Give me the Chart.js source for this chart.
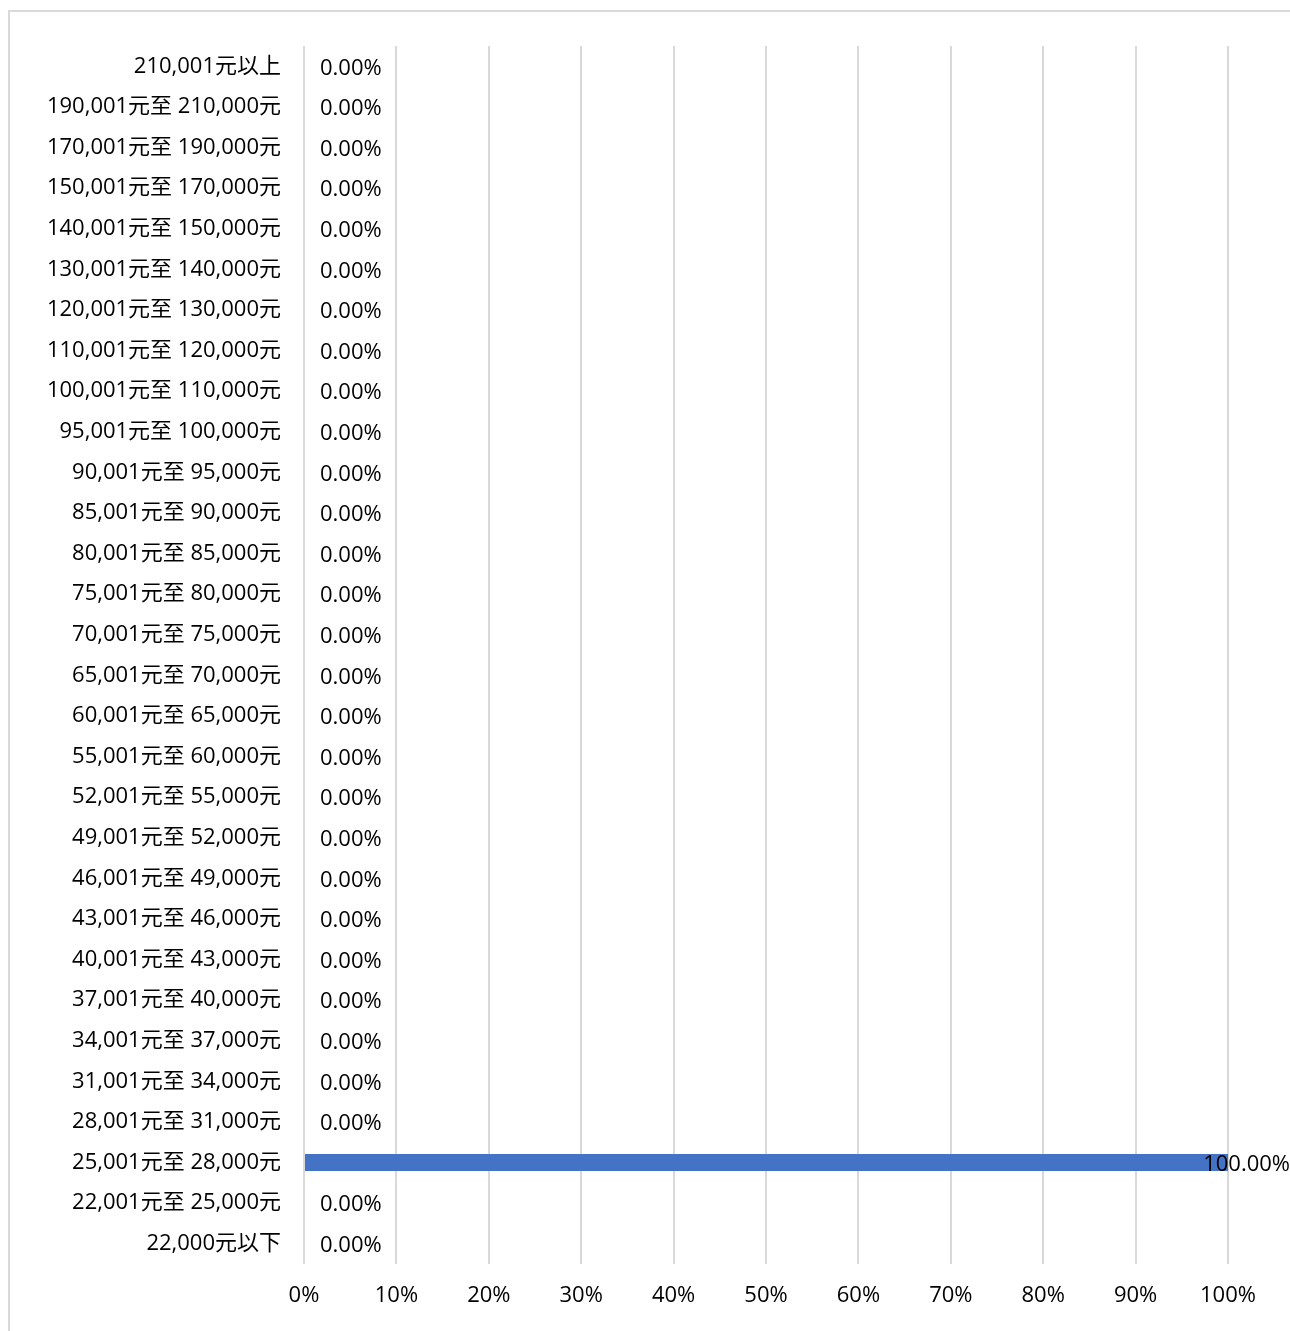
<!DOCTYPE html>
<html>
<head>
<meta charset="utf-8">
<script src="https://cdn.jsdelivr.net/npm/chart.js@4.4.1/dist/chart.umd.min.js"></script>
<style>
  html, body { margin: 0; padding: 0; background: #fff; overflow: hidden; }
  #frame { position: absolute; left: 8px; top: 10px; width: 1320px; height: 1360px; border: 2px solid #d9d9d9; }
  #grafico { position: absolute; left: 0; top: 0; }
</style>
</head>
<body>
<div id="frame"></div>
<canvas id="grafico" width="1290" height="1331"></canvas>
<script>
// faixas salariais, da menor para a maior
const categorias = [
  "22,000元以下",
  "22,001元至 25,000元",
  "25,001元至 28,000元",
  "28,001元至 31,000元",
  "31,001元至 34,000元",
  "34,001元至 37,000元",
  "37,001元至 40,000元",
  "40,001元至 43,000元",
  "43,001元至 46,000元",
  "46,001元至 49,000元",
  "49,001元至 52,000元",
  "52,001元至 55,000元",
  "55,001元至 60,000元",
  "60,001元至 65,000元",
  "65,001元至 70,000元",
  "70,001元至 75,000元",
  "75,001元至 80,000元",
  "80,001元至 85,000元",
  "85,001元至 90,000元",
  "90,001元至 95,000元",
  "95,001元至 100,000元",
  "100,001元至 110,000元",
  "110,001元至 120,000元",
  "120,001元至 130,000元",
  "130,001元至 140,000元",
  "140,001元至 150,000元",
  "150,001元至 170,000元",
  "170,001元至 190,000元",
  "190,001元至 210,000元",
  "210,001元以上"
];

// percentuais (%)
const valores = [
  0, 0, 100, 0, 0, 0, 0, 0, 0, 0,
  0, 0, 0, 0, 0, 0, 0, 0, 0, 0,
  0, 0, 0, 0, 0, 0, 0, 0, 0, 0
];

const ticksX = [0, 10, 20, 30, 40, 50, 60, 70, 80, 90, 100];

const fonte = "'Open Sans', 'Noto Sans CJK TC', sans-serif";
const corTexto = "#000";

// rótulos de dados (sem plugin externo)
const rotulos = {
  id: "rotulos",
  afterDatasetsDraw(chart) {
    const ctx = chart.ctx;
    const meta = chart.getDatasetMeta(0);
    ctx.save();
    ctx.font = "22px " + fonte;
    ctx.fillStyle = corTexto;
    ctx.textBaseline = "middle";
    ctx.textAlign = "left";
    meta.data.forEach((bar, i) => {
      const texto = valores[i].toFixed(2) + "%";
      const w = ctx.measureText(texto).width;
      let x = bar.x + 16;
      if (x + w > chart.width) x = chart.width - w;
      ctx.fillText(texto, x, bar.y + 2);
    });
    ctx.restore();
  }
};

const canvas = document.getElementById("grafico");

new Chart(canvas, {
  type: "bar",
  data: {
    labels: categorias,
    datasets: [{
      data: valores,
      backgroundColor: "#4472C4",
      barPercentage: 0.42,
      categoryPercentage: 1
    }]
  },
  options: {
    indexAxis: "y",
    responsive: false,
    animation: false,
    layout: { padding: { top: 46, right: 62, bottom: 0, left: 0 } },
    plugins: {
      legend: { display: false },
      tooltip: { enabled: false }
    },
    scales: {
      x: {
        min: 0,
        max: 100,
        afterBuildTicks(scale) {
          scale.ticks = ticksX.map(v => ({ value: v }));
        },
        afterFit(scale) { scale.height = 67; },
        grid: { color: "#d9d9d9", lineWidth: 2, drawTicks: false },
        border: { display: false },
        ticks: {
          padding: 19,
          color: corTexto,
          font: { family: fonte, size: 22 },
          callback: v => v + "%"
        }
      },
      y: {
        reverse: true,
        afterFit(scale) { scale.width = 304; },
        grid: { display: false, drawTicks: false },
        border: { display: false },
        ticks: {
          padding: 23,
          autoSkip: false,
          color: corTexto,
          font: { family: fonte, size: 22 }
        }
      }
    }
  },
  plugins: [rotulos]
});
</script>
</body>
</html>
